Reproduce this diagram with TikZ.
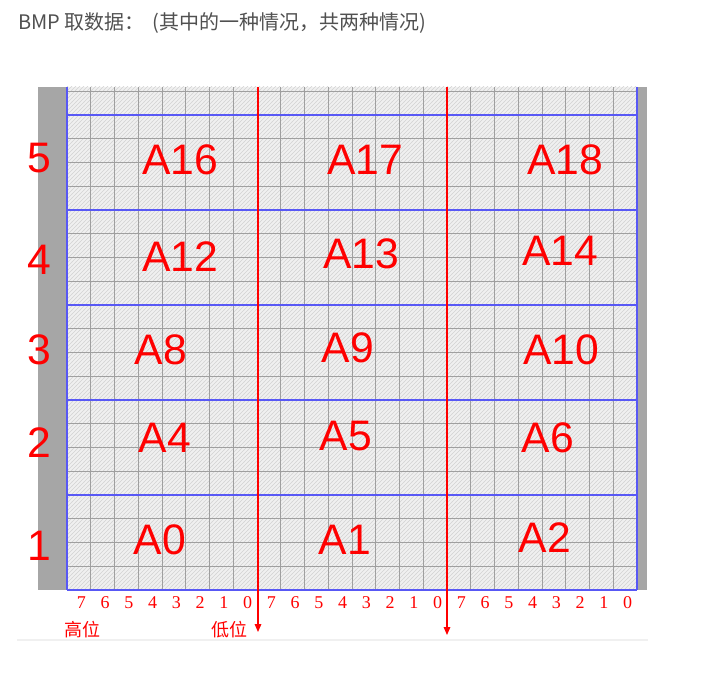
\documentclass[tikz,border=0pt]{standalone}
\usepackage{fontspec}
\setmainfont{Liberation Sans}
\newfontfamily\cjk{Noto Sans CJK SC}
\newfontfamily\bitfont{Liberation Serif}
\usetikzlibrary{arrows.meta,patterns}

\definecolor{bmpred}{RGB}{255,0,0}
\definecolor{bmpblue}{RGB}{88,88,245}
\definecolor{bargray}{RGB}{166,166,166}
\definecolor{titlegray}{RGB}{80,80,80}

\begin{document}
\begin{tikzpicture}
    [x=0.75pt,y=-0.75pt,
     cell/.style={font=\fontsize{32}{32}\selectfont,text=bmpred,inner sep=0pt},
     bit/.style={font=\bitfont\fontsize{13.5}{13.5}\selectfont,text=bmpred,inner sep=0pt},
     bitpos/.style={font=\cjk\fontsize{13.5}{13.5}\selectfont,text=bmpred,inner sep=0pt},
     gridline/.style={draw=gray!75,line width=0.7pt},
     blockline/.style={draw=bmpblue,line width=1.4pt},
     readarrow/.style={draw=bmpred,line width=0.8pt,-{Triangle[length=6pt,width=5pt]}}]
      \useasboundingbox (0,0) rectangle (711,674);

      \node (title)[anchor=base west,font=\cjk\fontsize{15}{15}\selectfont,text=titlegray,inner sep=0pt]
            at (18,30) {BMP 取数据：\hspace{0.4em}(其中的一种情况，共两种情况)};

      % bitmap area
      \fill[gray!12] (67,87) rectangle (637,590);
      \fill[pattern=north east lines,pattern color=gray!35] (67,87) rectangle (637,590);
      \foreach \i in {1,...,23}
	\draw[gridline] ({67+23.75*\i},87) -- ({67+23.75*\i},590);
      \foreach \j in {0,...,20}
	\draw[gridline] (67,{91.25+23.75*\j}) -- (637,{91.25+23.75*\j});
      \fill[bargray] (38,87) rectangle (67,590);
      \fill[bargray] (637,87) rectangle (647,590);
      \foreach \k in {0,...,5}
	\draw[blockline] (67,{115+95*\k}) -- (637,{115+95*\k});
      \draw[blockline] (67,87) -- (67,590);
      \draw[blockline] (637,87) -- (637,590);

      \node (r5)[cell] at (39,158) {5};
      \node (r4)[cell] at (39,260) {4};
      \node (r3)[cell] at (39,350) {3};
      \node (r2)[cell] at (39,443) {2};
      \node (r1)[cell] at (39,546) {1};

      \node (a16)[cell] at (180,160) {A16};
      \node (a17)[cell] at (365,160) {A17};
      \node (a18)[cell] at (565,160) {A18};
      \node (a12)[cell] at (180,257) {A12};
      \node (a13)[cell] at (361,254) {A13};
      \node (a14)[cell] at (560,251) {A14};
      \node (a8)[cell]  at (161,350) {A8};
      \node (a9)[cell]  at (348,348) {A9};
      \node (a10)[cell] at (561,350) {A10};
      \node (a4)[cell]  at (165,438) {A4};
      \node (a5)[cell]  at (346,436) {A5};
      \node (a6)[cell]  at (548,438) {A6};
      \node (a0)[cell]  at (160,540) {A0};
      \node (a1)[cell]  at (345,540) {A1};
      \node (a2)[cell]  at (545,538) {A2};

      % bit numbers under each byte, high bit first
      \foreach \g in {0,1,2}
	\foreach \v [count=\b from 0] in {7,6,5,4,3,2,1,0}
	  \node (bit\g\v)[bit] at ({69.5+23.75*(8*\g+\b+0.5)},603) {\v};

      \node (high)[bitpos] at (82,630) {高位};
      \node (low)[bitpos]  at (229,630) {低位};

      \coordinate (top1) at (258,87);
      \coordinate (end1) at (258,632);
      \coordinate (top2) at (447,87);
      \coordinate (end2) at (447,635);
      \foreach \from/\to in {top1/end1,top2/end2}
	\draw[readarrow] (\from) -- (\to);

      \draw[gray!12,line width=0.8pt] (17,640) -- (648,640);
    \end{tikzpicture}
\end{document}
